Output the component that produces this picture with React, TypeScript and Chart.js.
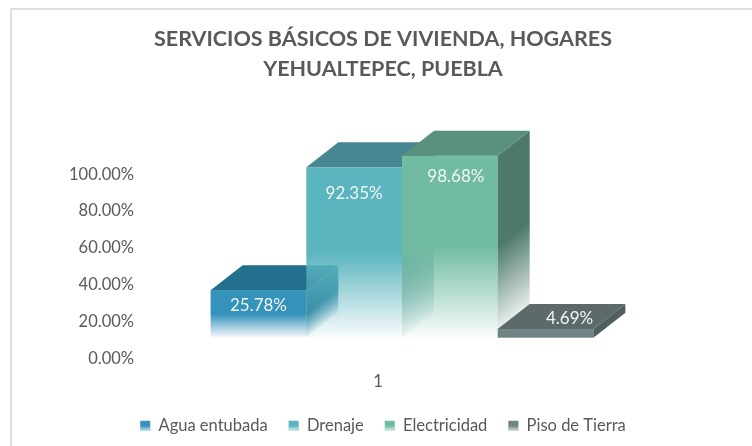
import React, { useEffect, useRef } from "react";
import { Chart, registerables } from "chart.js";

Chart.register(...registerables);

const categories = ["1"];
const seriesNames = ["Agua entubada", "Drenaje", "Electricidad", "Piso de Tierra"];
const aguaEntubada = [25.78];
const drenaje = [92.35];
const electricidad = [98.68];
const pisoDeTierra = [4.69];
const yTickStep = 20;

const frontColors = ["53,146,187", "91,181,191", "114,187,163", "110,132,132"];
const topColors = ["#25708f", "#468792", "#5a917e", "#5e6a6a"];
const sideColors = ["43,127,159", "74,144,152", "77,122,104", "79,95,95"];
const labelOffsets = [
  { dx: 0, dy: 15 },
  { dx: 0, dy: 26 },
  { dx: 6, dy: 21 },
  { dx: 24, dy: -11 },
];

const DEPTH_X = 32;
const DEPTH_Y = 25;
const SHIFT_X = 24;
const SHIFT_Y = -21;
const TEXT = "#595959";
const FONT = "Lato, 'Open Sans', sans-serif";

const threeD = {
  id: "threeD",
  beforeDraw(chart: any) {
    const { ctx, width, height } = chart;
    ctx.save();
    ctx.fillStyle = "#ffffff";
    ctx.fillRect(0, 0, width, height);
    ctx.strokeStyle = "#dedede";
    ctx.lineWidth = 2;
    ctx.strokeRect(11, 9, width + 20, height + 20);
    ctx.restore();
  },
  beforeDatasetsDraw(chart: any) {
    const { ctx } = chart;
    ctx.save();
    chart.data.datasets.forEach((ds: any, i: number) => {
      const bar = chart.getDatasetMeta(i).data[0];
      const half = bar.width / 2;
      const x0 = bar.x - half + SHIFT_X;
      const x1 = bar.x + half + SHIFT_X;
      const top = bar.y + SHIFT_Y;
      const base = bar.base + SHIFT_Y;
      const h = base - top;

      const front = ctx.createLinearGradient(0, top, 0, base);
      front.addColorStop(0, `rgba(${frontColors[i]},1)`);
      front.addColorStop(0.5, `rgba(${frontColors[i]},1)`);
      front.addColorStop(1, `rgba(${frontColors[i]},${i === 3 ? 1 : 0.03})`);
      ctx.fillStyle = front;
      ctx.fillRect(x0, top, x1 - x0, h);

      const side = ctx.createLinearGradient(x1, top, x1 + 0.485 * h, top + 0.62 * h);
      side.addColorStop(0, `rgba(${sideColors[i]},1)`);
      side.addColorStop(0.5, `rgba(${sideColors[i]},1)`);
      side.addColorStop(1, `rgba(${sideColors[i]},${i === 3 ? 1 : 0.05})`);
      ctx.fillStyle = side;
      ctx.beginPath();
      ctx.moveTo(x1, top);
      ctx.lineTo(x1 + DEPTH_X, top - DEPTH_Y);
      ctx.lineTo(x1 + DEPTH_X, base - DEPTH_Y);
      ctx.lineTo(x1, base);
      ctx.closePath();
      ctx.fill();

      ctx.fillStyle = topColors[i];
      ctx.beginPath();
      ctx.moveTo(x0, top);
      ctx.lineTo(x0 + DEPTH_X, top - DEPTH_Y);
      ctx.lineTo(x1 + DEPTH_X, top - DEPTH_Y);
      ctx.lineTo(x1, top);
      ctx.closePath();
      ctx.fill();
    });
    ctx.font = `17px ${FONT}`;
    ctx.textAlign = "center";
    ctx.textBaseline = "middle";
    ctx.fillStyle = "#eef6f6";
    chart.data.datasets.forEach((ds: any, i: number) => {
      const bar = chart.getDatasetMeta(i).data[0];
      const o = labelOffsets[i];
      ctx.fillText(`${ds.data[0].toFixed(2)}%`, bar.x + SHIFT_X + o.dx, bar.y + SHIFT_Y + o.dy);
    });
    ctx.restore();
    return false;
  },
  afterDraw(chart: any) {
    const { ctx } = chart;
    const boxes = chart.legend?.legendHitBoxes ?? [];
    ctx.save();
    boxes.forEach((b: any) => {
      const cy = b.top + b.height / 2;
      const g = ctx.createLinearGradient(0, cy - 5, 0, cy + 5);
      g.addColorStop(0, "rgba(255,255,255,0)");
      g.addColorStop(0.5, "rgba(255,255,255,0)");
      g.addColorStop(1, "rgba(255,255,255,0.75)");
      ctx.fillStyle = g;
      ctx.fillRect(b.left, cy - 5, 10, 10);
    });
    ctx.restore();
  },
};

export default function App() {
  const ref = useRef<HTMLCanvasElement>(null);
  useEffect(() => {
    const data = [aguaEntubada, drenaje, electricidad, pisoDeTierra];
    const chart = new Chart(ref.current!, {
      type: "bar",
      data: {
        labels: categories,
        datasets: seriesNames.map((label, i) => ({
          label,
          data: data[i],
          backgroundColor: `rgb(${frontColors[i]})`,
        })),
      },
      plugins: [threeD],
      options: {
        animation: false,
        responsive: false,
        layout: { padding: { left: 14, right: 0, top: 24, bottom: 2 } },
        datasets: { bar: { barPercentage: 1, categoryPercentage: 0.811 } },
        scales: {
          x: {
            grid: { display: false },
            border: { display: false },
            ticks: { color: TEXT, font: { family: FONT, size: 16.5 }, padding: 5 },
          },
          y: {
            min: 0,
            max: 100,
            grid: { display: false },
            border: { display: false },
            afterFit: (s: any) => { s.width = 128; },
            ticks: {
              stepSize: yTickStep,
              color: TEXT,
              padding: 0,
              font: { family: FONT, size: 16.5 },
              callback: (v: any) => `${Number(v).toFixed(2)}%`,
            },
          },
          spacer: {
            type: "linear",
            position: "right",
            display: true,
            grid: { display: false },
            border: { display: false },
            ticks: { display: false },
            afterFit: (s: any) => { s.width = 138; },
          },
        },
        plugins: {
          tooltip: { enabled: false },
          title: {
            display: true,
            text: ["SERVICIOS BÁSICOS DE VIVIENDA, HOGARES", "YEHUALTEPEC, PUEBLA"],
            color: TEXT,
            font: { family: FONT, size: 21.5, weight: "bold", lineHeight: 1.4 },
            padding: { top: 0, bottom: 90 },
          },
          legend: {
            position: "bottom",
            labels: {
              color: TEXT,
              boxWidth: 10,
              boxHeight: 10,
              padding: 21,
              font: { family: FONT, size: 16.5 },
            },
          },
        },
      },
    } as any);
    return () => chart.destroy();
  }, []);
  return (
    <div style={{ position: "absolute", left: 0, top: 0 }}>
      <canvas ref={ref} width={752} height={446} style={{ display: "block", filter: "blur(0.4px)" }} />
    </div>
  );
}
